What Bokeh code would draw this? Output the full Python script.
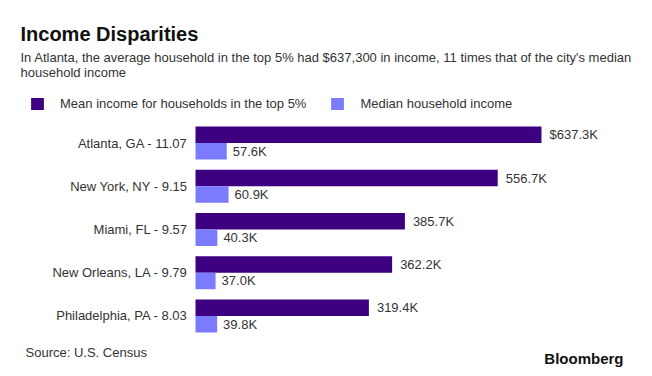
from bokeh.plotting import figure
from bokeh.models import Range1d, Label, Legend, LegendItem, ColumnDataSource
from bokeh.transform import dodge
from bokeh.core.properties import value
from bokeh.embed import file_html
from bokeh.resources import INLINE

# ---- data ----
cities = ["Atlanta, GA", "New York, NY", "Miami, FL", "New Orleans, LA", "Philadelphia, PA"]
ratios = ["11.07", "9.15", "9.57", "9.79", "8.03"]
top5_mean = [637.3, 556.7, 385.7, 362.2, 319.4]      # $ thousands
median_income = [57.6, 60.9, 40.3, 37.0, 39.8]       # $ thousands

title = "Income Disparities"
subtitle = ["In Atlanta, the average household in the top 5% had $637,300 in income, 11 times that of the city's median",
            "household income"]
series_names = ["Mean income for households in the top 5%", "Median household income"]
source_txt = "Source: U.S. Census"
brand = "Bloomberg"

DARK = "#3d0080"
LIGHT = "#7b7bff"
FONT = "Liberation Sans"
TXT = "#333333"

ypos = list(range(len(cities)))
src = ColumnDataSource(dict(
    y=ypos,
    cat=[f"{c} - {r}" for c, r in zip(cities, ratios)],
    mean=top5_mean,
    med=median_income,
    mean_lbl=[("$" if i == 0 else "") + f"{v:.1f}K" for i, v in enumerate(top5_mean)],
    med_lbl=[f"{v:.1f}K" for v in median_income],
))

W, H = 652, 376
p = figure(width=W, height=H, x_range=Range1d(-359.2, 841.8), y_range=Range1d(5.399, -3.295),
           output_backend="svg", toolbar_location=None, min_border=0,
           x_axis_type=None, y_axis_type=None, outline_line_color=None)
p.grid.visible = False

off = 0.19
hh = 0.38
r_mean = p.hbar(y=dodge("y", -off, range=p.y_range), left=0, right="mean", height=hh,
                source=src, fill_color=DARK, line_color=None)
r_med = p.hbar(y=dodge("y", off, range=p.y_range), left=0, right="med", height=hh,
               source=src, fill_color=LIGHT, line_color=None)

p.text(x=0, y="y", text="cat", source=src, x_offset=-8, text_align="right", text_baseline="middle",
       text_font=value(FONT), text_font_size="13px", text_color=TXT)
p.text(x="mean", y=dodge("y", -off, range=p.y_range), text="mean_lbl", source=src, x_offset=8,
       text_align="left", text_baseline="middle", text_font=value(FONT), text_font_size="13px", text_color=TXT)
p.text(x="med", y=dodge("y", off, range=p.y_range), text="med_lbl", source=src, x_offset=6,
       text_align="left", text_baseline="middle", text_font=value(FONT), text_font_size="13px", text_color=TXT)

legend = Legend(items=[LegendItem(label=series_names[0], renderers=[r_mean]),
                       LegendItem(label=series_names[1], renderers=[r_med])],
                orientation="horizontal", location=(29, 265), glyph_width=16, glyph_height=15,
                label_height=15, label_standoff=15, spacing=23, padding=0, margin=0,
                border_line_color=None, background_fill_alpha=0,
                label_text_font=FONT, label_text_font_size="13px", label_text_color=TXT,
                label_text_baseline="middle")
p.add_layout(legend, "center")

p.add_layout(Label(x=20, y=343, x_units="screen", y_units="screen", text=title,
                   text_font=FONT, text_font_size="20px", text_font_style="bold",
                   text_color="#111111", text_baseline="alphabetic"))
p.add_layout(Label(x=20, y=319, x_units="screen", y_units="screen", text=subtitle[0],
                   text_font=FONT, text_font_size="13px", text_color=TXT, text_baseline="middle"))
p.add_layout(Label(x=20, y=304, x_units="screen", y_units="screen", text=subtitle[1],
                   text_font=FONT, text_font_size="13px", text_color=TXT, text_baseline="middle"))
p.add_layout(Label(x=25, y=24, x_units="screen", y_units="screen", text=source_txt,
                   text_font=FONT, text_font_size="13px", text_color=TXT, text_baseline="middle"))
p.add_layout(Label(x=623, y=18, x_units="screen", y_units="screen", text=brand, text_align="right",
                   text_font=FONT, text_font_size="15px", text_font_style="bold",
                   text_color="#111111", text_baseline="middle"))

open("out.html", "w").write(file_html(p, INLINE))
